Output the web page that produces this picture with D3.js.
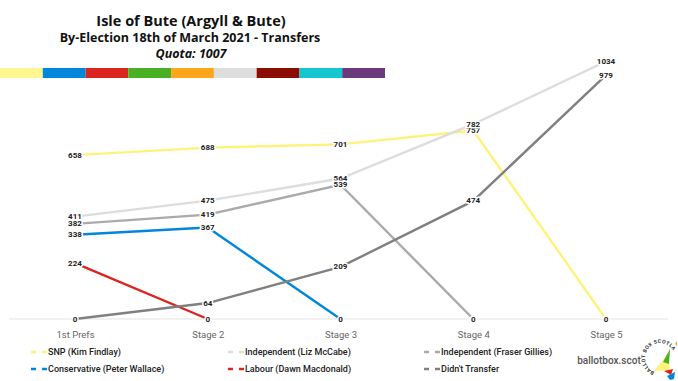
<!DOCTYPE html>
<html>
<head>
  <title>Isle of Bute Transfers</title>
  <script src="https://d3js.org/d3.v7.min.js"></script>
  <style>
    body { margin: 0; background: #fff; }
    .title { font-family: "Open Sans", sans-serif; font-weight: 700; text-anchor: middle; fill: #111; }
    .val { font-family: Roboto, sans-serif; font-size: 8px; font-weight: 700; fill: #222;
           text-anchor: middle; dominant-baseline: central;
           stroke: #fff; stroke-width: 3px; paint-order: stroke; stroke-linejoin: round; }
    .stage { font-family: Roboto, sans-serif; font-size: 9.5px; fill: #666; text-anchor: middle; }
    .leg { font-family: Roboto, sans-serif; font-size: 9px; font-weight: 500; fill: #222; dominant-baseline: central; }
  </style>
</head>
<body>
<svg id="chart"></svg>
<script>
  // stages and series (null = candidate no longer in the count)
  const stages = ["1st Prefs", "Stage 2", "Stage 3", "Stage 4", "Stage 5"];
  const snp = [658, 688, 701, 757, 0];
  const mccabe = [411, 475, 564, 782, 1034];
  const gillies = [382, 419, 539, 0, null];
  const wallace = [338, 367, 0, null, null];
  const macdonald = [224, 0, null, null, null];
  const noTransfer = [0, 64, 209, 474, 979];

  const names = ["SNP (Kim Findlay)", "Independent (Liz McCabe)", "Independent (Fraser Gillies)",
                 "Conservative (Peter Wallace)", "Labour (Dawn Macdonald)", "Didn't Transfer"];
  const colors = ["#fff27a", "#dddddd", "#aaaaaa", "#0087dc", "#dc241f", "#808080"];
  const barColors = ["#fff68f", "#0087dc", "#dc241f", "#4ab023", "#fba61b", "#dddddd", "#8b0c03", "#13c6d0", "#6a3a7d"];

  const series = [snp, mccabe, gillies, wallace, macdonald, noTransfer].map((v, i) => ({
    name: names[i], color: colors[i], values: v
  }));

  const width = 678, height = 381;
  const svg = d3.select("#chart").attr("width", width).attr("height", height);

  // titles
  svg.append("text").attr("class", "title").attr("x", 191).attr("y", 26)
    .style("font-size", "14.5px").text("Isle of Bute (Argyll & Bute)");
  svg.append("text").attr("class", "title").attr("x", 190).attr("y", 42)
    .style("font-size", "12.5px").text("By-Election 18th of March 2021 - Transfers");
  svg.append("text").attr("class", "title").attr("x", 191).attr("y", 58)
    .style("font-size", "12.5px").style("font-style", "italic").text("Quota: 1007");

  // colour strip
  const bx = d3.scaleBand().domain(d3.range(barColors.length)).range([0, 385]);
  svg.selectAll(".strip").data(barColors).enter().append("rect")
    .attr("x", (d, i) => bx(i)).attr("y", 68)
    .attr("width", bx.bandwidth()).attr("height", 10)
    .attr("fill", d => d);

  // scales
  const x = d3.scalePoint().domain(stages).range([75, 606]);
  const y = d3.scaleLinear().domain([0, 1100]).range([319, 45]);

  // baseline + stage labels
  svg.append("line").attr("x1", 9).attr("x2", 668).attr("y1", y(0)).attr("y2", y(0))
    .attr("stroke", "#e3e3e3").attr("stroke-width", 1);
  const xAxis = svg.append("g").attr("transform", "translate(0," + y(0) + ")")
    .call(d3.axisBottom(x).tickSize(0).tickPadding(12));
  xAxis.select(".domain").remove();
  xAxis.selectAll("text").attr("class", "stage").attr("font-size", null).attr("font-family", null).attr("fill", null);

  // lines
  const line = d3.line()
    .defined(d => d.v !== null)
    .x(d => x(d.s)).y(d => y(d.v));
  const pts = s => s.values.map((v, i) => ({ s: stages[i], v: v }));

  svg.selectAll(".series").data(series).enter().append("path")
    .attr("d", d => line(pts(d)))
    .attr("fill", "none").attr("stroke", d => d.color)
    .attr("stroke-width", 2.4);

  // value labels
  series.forEach(s => {
    svg.selectAll(null).data(pts(s).filter(p => p.v !== null)).enter().append("text")
      .attr("class", "val")
      .attr("x", p => x(p.s)).attr("y", p => y(p.v))
      .text(p => p.v);
  });

  // legend
  const legX = d3.scaleOrdinal().domain([0, 1, 2]).range([30, 227, 423]);
  const legY = d3.scaleOrdinal().domain([0, 1]).range([352, 369]);
  const leg = svg.selectAll(".legitem").data(series).enter().append("g")
    .attr("transform", (d, i) => "translate(" + legX(i % 3) + "," + legY(Math.floor(i / 3)) + ")");
  leg.append("line").attr("x1", 1).attr("x2", 6).attr("y1", 0).attr("y2", 0)
    .attr("stroke", d => d.color).attr("stroke-width", 2.5);
  leg.append("line").attr("x1", 12).attr("x2", 17).attr("y1", 0).attr("y2", 0)
    .attr("stroke", d => d.color).attr("stroke-width", 2.5);
  leg.append("text").attr("class", "leg").attr("x", 18).attr("y", 0).text(d => d.name);

  // ballotbox.scot mark
  svg.append("text").attr("x", 609).attr("y", 364)
    .attr("text-anchor", "middle")
    .style("font-family", "Roboto, sans-serif").style("font-size", "10px")
    .style("font-weight", "500").style("fill", "#555").text("ballotbox.scot");

  const logo = svg.append("g").attr("transform", "translate(660,358)");
  const arcPath = d3.path();
  arcPath.arc(0, 0, 15, Math.PI * 0.62, Math.PI * 1.82, false);
  logo.append("path").attr("id", "logoArc").attr("d", arcPath.toString()).attr("fill", "none");
  logo.append("text")
    .style("font-family", "Roboto, sans-serif").style("font-size", "5.2px").style("font-weight", "700")
    .style("fill", "#333").style("letter-spacing", "0.35px")
    .append("textPath").attr("href", "#logoArc").text("BALLOT BOX SCOTLAND");
  const shards = [
    ["#fff27a", "M-6,13 L8,-4 L10,12 Z"],
    ["#4ab023", "M3,4 L10,-9 L9,6 Z"],
    ["#fba61b", "M15,-14 L17,-17 L17,-12 Z"],
    ["#dc241f", "M4,13 L13,11 L11,17 Z"],
    ["#0087dc", "M7,18 L15,14 L14,21 L10,22 Z"]
  ];
  logo.selectAll(".shard").data(shards).enter().append("path")
    .attr("d", d => d[1]).attr("fill", d => d[0]);
</script>
</body>
</html>
